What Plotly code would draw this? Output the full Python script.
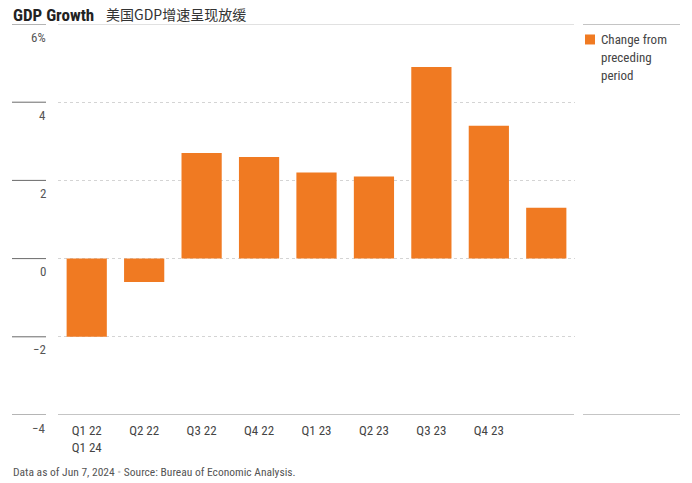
import plotly.graph_objects as go

# Quarterly real GDP growth, percent change from preceding period (annualized)
quarters = ["Q1 22", "Q2 22", "Q3 22", "Q4 22", "Q1 23", "Q2 23", "Q3 23", "Q4 23", "Q1 24"]
growth = [-2.0, -0.6, 2.7, 2.6, 2.2, 2.1, 4.9, 3.4, 1.3]
y_ticks = [-4, -2, 0, 2, 4, 6]
y_tick_text = ["\u22124", "\u22122", "0", "2", "4", "6%"]

series_name = "Change from<br>preceding<br>period"
title_en = "GDP Growth"
title_cn = "美国GDP增速呈现放缓"
footer = "Data as of Jun 7, 2024 <span style='color:#c8c8c8'>\u2022</span> Source: Bureau of Economic Analysis."

BAR = "#F07A22"
FONT = "Liberation Sans Narrow, Roboto Condensed, Roboto, Arial, sans-serif"
W, H = 692, 483
L, R, T, B = 58, 117, 23.5, 68
PW = W - L - R
PH = H - T - B

def px_x(px):
    return (px - L) / PW

def px_y(py):
    return 1 - (py - T) / PH

# The last quarter's label wraps under the first one in the tick row
tick_vals = quarters[:8]
tick_text = [quarters[0] + "<br>" + quarters[8]] + quarters[1:8]

fig = go.Figure()
fig.add_trace(go.Bar(
    x=quarters, y=growth, name=series_name,
    marker=dict(color=BAR, line=dict(width=0)),
    showlegend=False,
))

shapes = []
annotations = []
for v, t in zip(y_ticks, y_tick_text):
    # short rule above each y label
    shapes.append(dict(type="line", xref="paper", yref="y", x0=px_x(12), x1=px_x(46),
                       y0=v, y1=v, line=dict(color="#6a6a6a", width=1)))
    annotations.append(dict(xref="paper", yref="y", x=px_x(48), y=v, text=t, showarrow=False,
                            xanchor="right", yanchor="middle", yshift=-13,
                            font=dict(family=FONT, size=13, color="#555")))

# top and bottom frame rules across the plot and the legend column
for v, col in ((6, "#c4c4c4"), (-4, "#8a8a8a")):
    shapes.append(dict(type="line", xref="paper", yref="y", x0=0, x1=px_x(574),
                       y0=v, y1=v, line=dict(color=col, width=1)))
    shapes.append(dict(type="line", xref="paper", yref="y", x0=px_x(583), x1=px_x(680),
                       y0=v, y1=v, line=dict(color="#8a8a8a", width=1)))

# key: swatch plus wrapped series label
shapes.append(dict(type="rect", xref="paper", yref="paper", x0=px_x(585), x1=px_x(595),
                   y0=px_y(44), y1=px_y(34), fillcolor=BAR, line=dict(width=0)))
for i, line in enumerate(series_name.split("<br>")):
    annotations.append(dict(xref="paper", yref="paper", x=px_x(599), y=px_y(39 + 18 * i),
                            text=line, showarrow=False, xanchor="left", yanchor="middle",
                            font=dict(family=FONT, size=13, color="#444")))

annotations.append(dict(xref="paper", yref="paper", x=px_x(11), y=px_y(14),
                        text="<b>" + title_en + "</b>", showarrow=False, xanchor="left", yanchor="middle",
                        font=dict(family=FONT, size=17, color="#222")))
annotations.append(dict(xref="paper", yref="paper", x=px_x(104), y=px_y(13),
                        text=title_cn, showarrow=False, xanchor="left", yanchor="middle",
                        font=dict(family="Noto Sans CJK SC, sans-serif", size=14, color="#333")))
annotations.append(dict(xref="paper", yref="paper", x=px_x(11), y=px_y(472),
                        text=footer, showarrow=False, xanchor="left", yanchor="middle",
                        font=dict(family=FONT, size=11.5, color="#555")))

fig.update_layout(
    width=W, height=H,
    margin=dict(l=L, r=R, t=T, b=B),
    paper_bgcolor="white", plot_bgcolor="white",
    bargap=0.3,
    font=dict(family=FONT, size=12, color="#444"),
    shapes=shapes, annotations=annotations,
    showlegend=False,
)
fig.update_xaxes(type="category", range=[-0.5, 8.5], tickvals=tick_vals, ticktext=tick_text,
                 showline=False, showgrid=False, ticks="", tickfont=dict(size=13, color="#444"),
                 ticklabelstandoff=6)
fig.update_yaxes(range=[-4, 6], tickvals=[-2, 0, 2, 4], showticklabels=False,
                 showgrid=True, gridcolor="#d4d4d4", griddash="dot", gridwidth=1,
                 zeroline=False, showline=False)

fig.write_html("out.html")
